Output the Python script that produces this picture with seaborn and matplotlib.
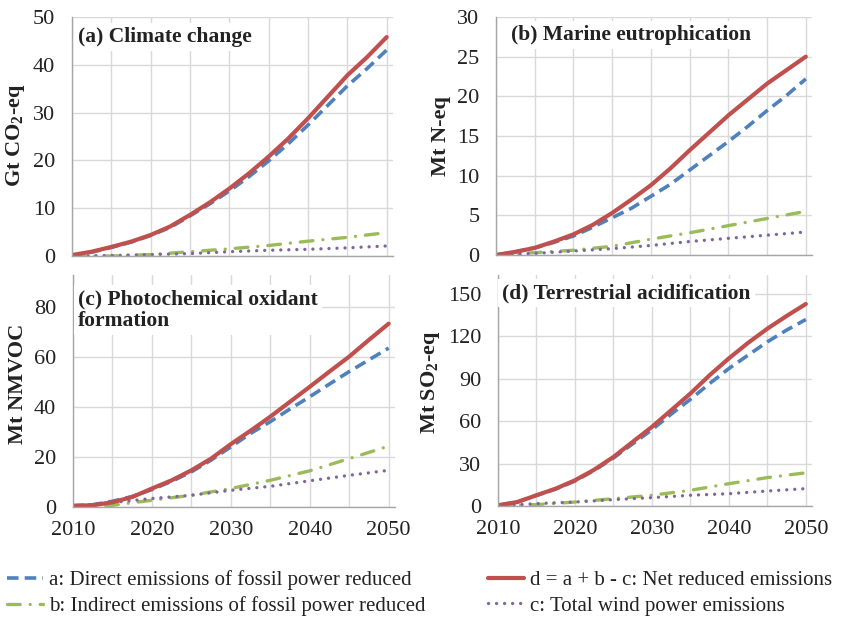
import numpy as np
import pandas as pd
import matplotlib
matplotlib.use('Agg')
import matplotlib.pyplot as plt
import seaborn as sns

# x positions: every 2.5 years for a and d, every 5 years for b and c
years_fine = [2010, 2012.5, 2015, 2017.5, 2020, 2022.5, 2025, 2027.5, 2030,
              2032.5, 2035, 2037.5, 2040, 2042.5, 2045, 2047.5, 2050]
years = [2010, 2015, 2020, 2025, 2030, 2035, 2040, 2045, 2050]

# (a) Climate change, Gt CO2-eq
clim_a = [0.1, 0.8, 1.8, 2.9, 4.3, 6.0, 8.4, 10.9, 13.6, 16.6, 19.9, 23.5, 27.4, 31.5, 35.6, 39.2, 43.1]
clim_d = [0.2, 0.9, 1.9, 3.0, 4.4, 6.2, 8.6, 11.2, 14.1, 17.3, 20.8, 24.6, 28.8, 33.3, 37.8, 41.6, 45.8]
clim_b = [0.0, 0.0, 0.3, 0.9, 1.5, 2.2, 3.1, 3.9, 4.9]
clim_c = [0.0, 0.1, 0.3, 0.5, 0.9, 1.2, 1.4, 1.7, 2.1]

# (b) Marine eutrophication, Mt N-eq
eutr_a = [0.0, 0.4, 0.9, 1.6, 2.4, 3.5, 4.7, 5.9, 7.4, 8.9, 10.7, 12.5, 14.3, 16.2, 18.2, 20.1, 22.2]
eutr_d = [0.0, 0.4, 0.9, 1.7, 2.6, 3.8, 5.3, 7.0, 8.8, 10.9, 13.2, 15.4, 17.6, 19.6, 21.6, 23.3, 25.0]
eutr_b = [0.0, 0.3, 0.6, 1.1, 2.0, 2.8, 3.7, 4.6, 5.5]
eutr_c = [0.0, 0.2, 0.5, 0.8, 1.2, 1.7, 2.1, 2.5, 2.9]

# (c) Photochemical oxidant formation, Mt NMVOC
phot_a = [0.5, 0.9, 2.3, 4.2, 7.0, 10.3, 14.1, 18.8, 24.1, 29.5, 34.2, 39.3, 44.2, 49.3, 54.3, 59.0, 63.7]
phot_d = [0.5, 0.7, 1.9, 4.0, 7.4, 10.7, 14.7, 19.4, 25.2, 30.6, 36.2, 42.2, 48.2, 54.3, 60.3, 67.0, 73.5]
phot_b = [0.0, 0.7, 2.7, 4.7, 7.4, 10.7, 14.5, 19.4, 24.4]
phot_c = [0.3, 1.8, 3.4, 4.7, 6.7, 8.3, 10.5, 12.7, 14.7]

# (d) Terrestrial acidification, Mt SO2-eq
acid_a = [0.5, 2.8, 7.6, 12.0, 17.7, 25.2, 34.0, 44.0, 54.0, 65.0, 75.5, 86.7, 97.3, 106.8, 116.2, 124.5, 132.0]
acid_d = [0.5, 2.8, 7.6, 12.3, 18.2, 25.7, 34.7, 45.4, 56.0, 67.8, 79.6, 92.6, 104.5, 115.5, 125.5, 134.5, 143.0]
acid_b = [0.0, 1.0, 2.8, 5.2, 7.6, 11.1, 15.8, 20.1, 23.5]
acid_c = [0.0, 1.7, 2.8, 4.5, 5.9, 7.6, 8.7, 10.6, 12.3]

titles = ['(a) Climate change', '(b) Marine eutrophication',
          '(c) Photochemical oxidant\nformation', '(d) Terrestrial acidification']
ylabels = [r'Gt CO$_\mathbf{2}$-eq', 'Mt N-eq', 'Mt NMVOC', r'Mt SO$_\mathbf{2}$-eq']
legend_labels = ['a: Direct emissions of fossil power reduced',
                 'b: Indirect emissions of fossil power reduced',
                 'c: Total wind power emissions',
                 'd = a + b - c: Net reduced emissions']

panels = [
    (clim_a, clim_b, clim_c, clim_d),
    (eutr_a, eutr_b, eutr_c, eutr_d),
    (phot_a, phot_b, phot_c, phot_d),
    (acid_a, acid_b, acid_c, acid_d),
]
xs = {'a': years_fine, 'b': years, 'c': years, 'd': years_fine}

sns.set_style('whitegrid')
plt.rcParams['font.family'] = ['Liberation Serif', 'DejaVu Serif']
plt.rcParams['mathtext.fontset'] = 'custom'
plt.rcParams['mathtext.rm'] = 'Liberation Serif'
plt.rcParams['mathtext.bf'] = 'Liberation Serif:bold'

fig = plt.figure(figsize=(8.46, 6.18), dpi=100)

W, H = 846, 618
boxes = [(72, 393, 17, 256), (496, 812, 17, 255), (73, 395, 275, 507), (498, 812, 275, 506)]
ylims = [(0, 50), (0, 30), (0, 93), (0, 163.5)]
yticks = [range(0, 51, 10), range(0, 31, 5), range(0, 81, 20), range(0, 151, 30)]
title_pos = [(0.019, 0.916), (0.047, 0.924), (0.016, 0.85), (0.013, 0.922)]
ylab_pos = [(-0.175, 0.506), (-0.175, 0.50), (-0.17, 0.53), (-0.215, 0.537)]

styles = {
    'a': dict(color='#4F81BD', lw=2.6, linestyle=(0, (3.2, 1.7))),
    'b': dict(color='#9BBB59', lw=2.4, linestyle=(0, (3.8, 3.0, 0.01, 3.0)), dash_capstyle='round'),
    'c': dict(color='#8064A2', lw=2.4, linestyle=(0, (0.01, 2.4)), dash_capstyle='round'),
    'd': dict(color='#C0504D', lw=3.0, linestyle='-'),
}

grid_col = '#D9D9D9'
axis_col = '#A6A6A6'
handles = {}

for i, (l, r, t, b) in enumerate(boxes):
    ax = fig.add_axes([l / W, 1 - b / H, (r - l) / W, (b - t) / H])
    series = dict(zip('abcd', panels[i]))
    for key in 'abcd':
        sns.lineplot(x=xs[key], y=series[key], ax=ax, **styles[key])
        handles[key] = ax.lines[-1]

    ax.set_xlim(2010, 2050.8)
    ax.set_ylim(*ylims[i])
    ax.set_yticks(list(yticks[i]))
    ax.set_xticks(list(range(2010, 2051, 5)))
    if i >= 2:
        ax.set_xticklabels([str(y) if y % 10 == 0 else '' for y in range(2010, 2051, 5)])
        ax.tick_params(axis='x', labelbottom=True)
    else:
        ax.tick_params(axis='x', labelbottom=False)

    ax.grid(True, color=grid_col, lw=1.0)
    for side in ['top', 'right']:
        ax.spines[side].set_visible(False)
    for side in ['left', 'bottom']:
        ax.spines[side].set_color(axis_col)
        ax.spines[side].set_linewidth(1.0)
    ax.tick_params(axis='both', which='major', length=4, width=1.0, color=axis_col,
                   labelsize=16, labelcolor='#222222', direction='out')
    ax.tick_params(axis='y', pad=8)
    ax.tick_params(axis='x', pad=6)
    ax.set_facecolor('white')

    ax.set_ylabel(ylabels[i], fontsize=16, fontweight='bold', color='#222222', va='center')
    ax.yaxis.set_label_coords(*ylab_pos[i])
    ax.set_xlabel('')

    ax.text(title_pos[i][0], title_pos[i][1], titles[i], transform=ax.transAxes,
            fontsize=15.5, fontweight='bold', color='#222222', ha='left', va='center',
            linespacing=1.1, zorder=5,
            bbox=dict(facecolor='white', edgecolor='none', pad=3))

leg_kw = dict(frameon=False, fontsize=15, handlelength=1.75, handletextpad=0.25,
              labelspacing=0.3, borderpad=0, borderaxespad=0, loc='center left',
              labelcolor='#222222')
fig.legend([handles['a'], handles['b']], [legend_labels[0], legend_labels[1]],
           bbox_to_anchor=(7 / W, 1 - 593 / H), **leg_kw)
fig.legend([handles['d'], handles['c']], [legend_labels[3], legend_labels[2]],
           bbox_to_anchor=(488 / W, 1 - 593 / H), **leg_kw)

fig.savefig('out.png', dpi=100, facecolor='white')
